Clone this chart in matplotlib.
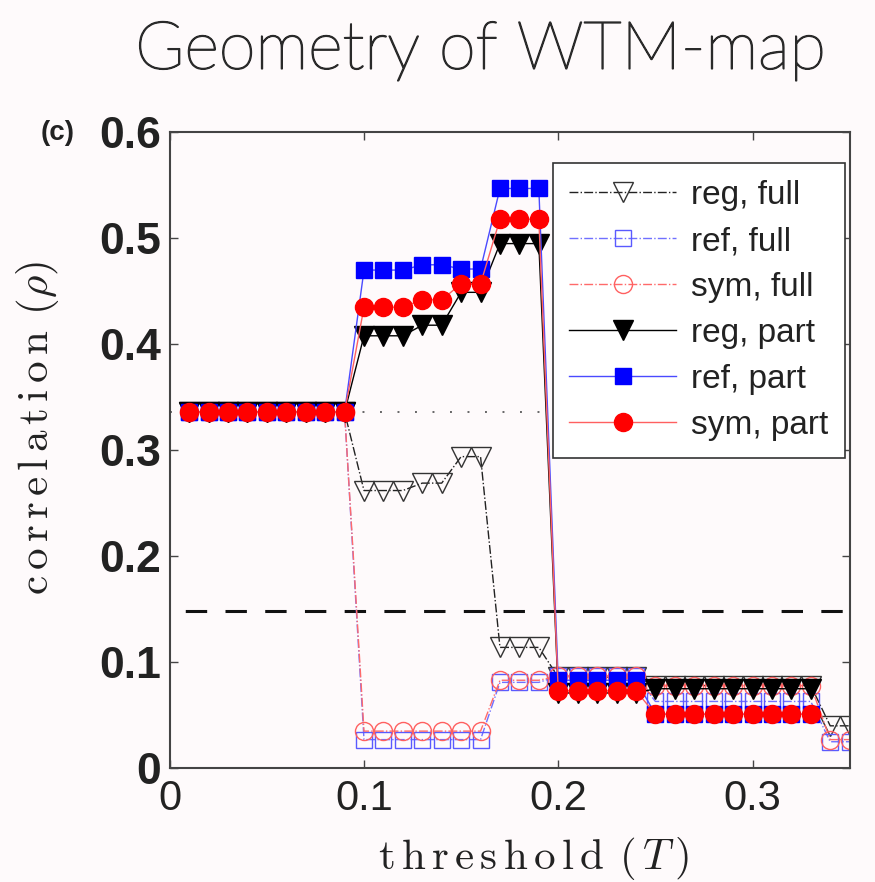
import numpy as np
import matplotlib
matplotlib.use("Agg")
import matplotlib.pyplot as plt
import matplotlib.patheffects as pe

plt.rcParams['mathtext.fontset'] = 'cm'

# threshold values
T = [0.01, 0.02, 0.03, 0.04, 0.05, 0.06, 0.07, 0.08, 0.09,
     0.10, 0.11, 0.12, 0.13, 0.14, 0.15, 0.16, 0.17, 0.18, 0.19,
     0.20, 0.21, 0.22, 0.23, 0.24, 0.25, 0.26, 0.27, 0.28, 0.29,
     0.30, 0.31, 0.32, 0.33, 0.34, 0.35]

nan = np.nan

# full-map correlations
reg_full = [0.336, 0.336, 0.336, 0.336, 0.336, 0.336, 0.336, 0.336, 0.336,
            0.262, 0.262, 0.262, 0.269, 0.269, 0.294, 0.294, 0.114, 0.114, 0.114,
            0.086, 0.086, 0.086, 0.086, 0.086, 0.078, 0.078, 0.078, 0.078, 0.078,
            0.078, 0.078, 0.078, 0.078, 0.040, 0.040]
ref_full = [0.336, 0.336, 0.336, 0.336, 0.336, 0.336, 0.336, 0.336, 0.336,
            0.027, 0.027, 0.027, 0.027, 0.027, 0.027, 0.027, 0.081, 0.081, 0.081,
            0.087, 0.087, 0.087, 0.087, 0.087, 0.063, 0.063, 0.063, 0.063, 0.063,
            0.063, 0.063, 0.063, 0.063, 0.025, 0.025]
sym_full = [0.336, 0.336, 0.336, 0.336, 0.336, 0.336, 0.336, 0.336, 0.336,
            0.035, 0.035, 0.035, 0.035, 0.035, 0.035, 0.035, 0.083, 0.083, 0.083,
            0.087, 0.087, 0.087, 0.087, 0.087, 0.078, 0.078, 0.078, 0.078, 0.078,
            0.078, 0.078, 0.078, 0.078, 0.027, 0.027]

# partial-map correlations
reg_part = [0.336, 0.336, 0.336, 0.336, 0.336, 0.336, 0.336, 0.336, 0.336,
            0.408, 0.408, 0.408, 0.418, 0.418, 0.449, 0.449, 0.495, 0.495, 0.495,
            0.071, 0.071, 0.071, 0.071, 0.071, 0.075, 0.075, 0.075, 0.075, 0.075,
            0.075, 0.075, 0.075, 0.075, nan, nan]
ref_part = [0.336, 0.336, 0.336, 0.336, 0.336, 0.336, 0.336, 0.336, 0.336,
            0.470, 0.470, 0.470, 0.475, 0.475, 0.471, 0.471, 0.547, 0.547, 0.547,
            0.083, 0.083, 0.083, 0.083, 0.083, 0.051, 0.051, 0.051, 0.051, 0.051,
            0.051, 0.051, 0.051, 0.051, nan, nan]
sym_part = [0.336, 0.336, 0.336, 0.336, 0.336, 0.336, 0.336, 0.336, 0.336,
            0.435, 0.435, 0.435, 0.442, 0.442, 0.457, 0.457, 0.518, 0.518, 0.518,
            0.073, 0.073, 0.073, 0.073, 0.073, 0.051, 0.051, 0.051, 0.051, 0.051,
            0.051, 0.051, 0.051, 0.051, nan, nan]

baseline_dotted = 0.336
baseline_dashed = 0.148

xticks = [0, 0.1, 0.2, 0.3]
xticklabels = ['0', '0.1', '0.2', '0.3']
yticks = [0, 0.1, 0.2, 0.3, 0.4, 0.5, 0.6]
yticklabels = ['0', '0.1', '0.2', '0.3', '0.4', '0.5', '0.6']

bg = '#fefafb'
fig = plt.figure(figsize=(8.75, 8.82), dpi=100, facecolor=bg)
ax = fig.add_axes([0.194, 0.129, 0.777, 0.721], facecolor=bg)

ms = 13
# reference levels
ax.axhline(baseline_dotted, color='#666666', lw=1.4, linestyle=(0, (1, 8)), zorder=1)
ax.axhline(baseline_dashed, color='#111111', lw=2.2, linestyle=(8, (7, 6)), zorder=1)

ax.plot(T, reg_full, linestyle='-.', color='#222222', lw=1.0, marker='v',
        ms=ms + 1, mfc='none', mec='#333333', mew=1.0, label='reg, full', zorder=2)
ax.plot(T, ref_full, linestyle='-.', color='#7070ff', lw=1.0, marker='s',
        ms=ms - 1, mfc='none', mec='#5a5aff', mew=1.0, label='ref, full', zorder=2)
ax.plot(T, sym_full, linestyle='-.', color='#ff6a6a', lw=1.0, marker='o',
        ms=ms, mfc='none', mec='#ff6060', mew=1.0, label='sym, full', zorder=2)

ax.plot(T, reg_part, linestyle='-', color='black', lw=1.0, marker='v',
        ms=ms + 1, mfc='black', mec='black', label='reg, part', zorder=3)
ax.plot(T, ref_part, linestyle='-', color='#4a4aff', lw=1.0, marker='s',
        ms=ms - 1, mfc='#0000ff', mec='#0000ff', label='ref, part', zorder=3)
ax.plot(T, sym_part, linestyle='-', color='#ff6060', lw=1.0, marker='o',
        ms=ms, mfc='#ff0000', mec='#ff0000', label='sym, part', zorder=3)

ax.set_xlim(0, 0.35)
ax.set_ylim(0, 0.6)
ax.set_xticks(xticks)
ax.set_xticklabels(xticklabels, family='Liberation Sans', fontsize=30, color='#222222')
ax.set_yticks(yticks)
ax.set_yticklabels(yticklabels, family='Liberation Sans', fontsize=32,
                   fontweight='bold', color='#222222')
ax.tick_params(direction='in', length=6, width=1, top=True, right=True,
               color='#444444')
ax.tick_params(axis='x', pad=8)
ax.tick_params(axis='y', pad=6)
for sp in ax.spines.values():
    sp.set_color('#444444')
    sp.set_linewidth(1.5)

ax.set_xlabel(r'$\mathrm{t\,h\,r\,e\,s\,h\,o\,l\,d}\;\,(\,T\,)$', fontsize=31, color='#222222')
ax.xaxis.set_label_coords(0.535, -0.105)
ax.set_ylabel(r'$\mathrm{c\,o\,r\,r\,e\,l\,a\,t\,i\,o\,n}\;\,(\rho)$', fontsize=31, color='#222222')
ax.yaxis.set_label_coords(-0.16, 0.535)

leg = ax.legend(loc='upper right', bbox_to_anchor=(0.993, 0.951), numpoints=1,
                prop={'family': 'Liberation Sans', 'size': 24},
                handlelength=3.2, handletextpad=0.45, labelspacing=0.45,
                borderpad=0.5, borderaxespad=0, fancybox=False, framealpha=1,
                edgecolor='#333333', facecolor='white')
leg.get_frame().set_linewidth(1.2)
for t in leg.get_texts():
    t.set_color('#222222')

title = fig.text(0.549, 0.922, 'Geometry of WTM-map', family='Lato', fontweight='light',
                 fontsize=48, color='#2a2a2a', ha='center', va='baseline')
title.set_path_effects([pe.withStroke(linewidth=1.1, foreground='#2a2a2a')])
fig.text(0.046, 0.849, '(c)', family='Liberation Sans', fontweight='bold',
         fontsize=20, color='#222222', ha='left', va='center')

fig.savefig('out.png', dpi=100, facecolor=bg)
